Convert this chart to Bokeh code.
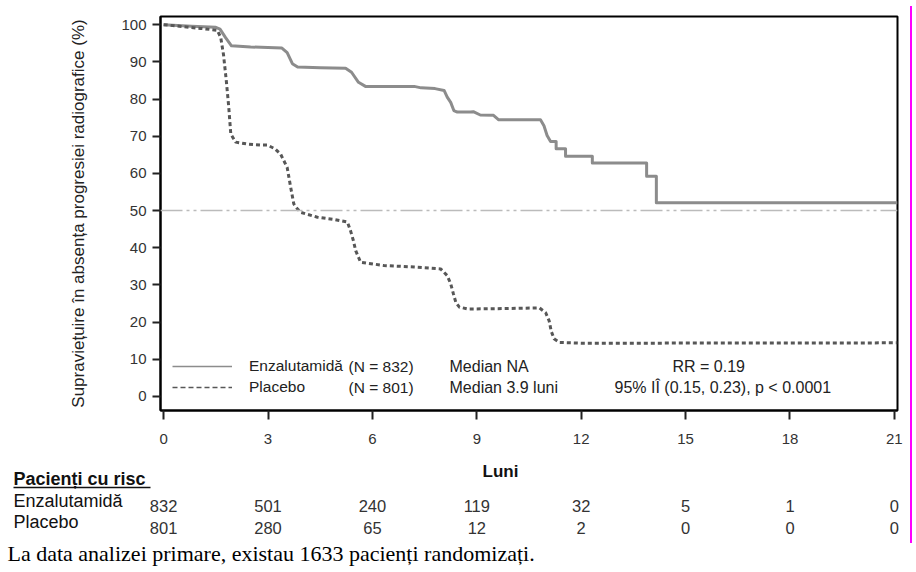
from bokeh.plotting import figure
from bokeh.layouts import column, row
from bokeh.models import Range1d, Span, Label, Legend, LegendItem, FixedTicker, Div
from bokeh.core.properties import value
from bokeh.embed import file_html
from bokeh.resources import INLINE

# ---------------- data ----------------
enza_t = [0, 0.8, 1.5, 1.62, 1.78, 1.95, 2.5, 3.4, 3.55, 3.7, 3.85, 4.5, 5.23, 5.4, 5.6, 5.8,
          7.2, 7.4, 7.8, 8.06, 8.15, 8.25, 8.34, 8.44, 8.82, 8.9, 9.1, 9.48, 9.63, 10.83,
          10.93, 11.02, 11.12, 11.28, 11.28, 11.55, 11.55, 12.32, 12.32, 13.88, 13.88,
          14.16, 14.16, 21.09]
enza_s = [100, 99.6, 99.3, 98.8, 96.5, 94.3, 94.0, 93.7, 92.5, 89.5, 88.6, 88.4, 88.3, 87.2, 84.5, 83.4,
          83.4, 83.0, 82.8, 82.3, 80.5, 79.1, 76.9, 76.5, 76.5, 76.6, 75.7, 75.6, 74.4, 74.4,
          72.8, 70.2, 68.6, 68.6, 66.6, 66.6, 64.6, 64.6, 62.8, 62.8, 59.2,
          59.2, 52.1, 52.1]

plac_t = [0, 1.06, 1.54, 1.64, 1.72, 1.8, 1.87, 1.93, 2.07, 2.4, 2.79, 2.98, 3.2, 3.36, 3.55, 3.65,
          3.74, 3.84, 3.94, 4.42, 4.9, 5.28, 5.37, 5.45, 5.52, 5.66, 6.33, 7.2, 7.96, 8.15, 8.25,
          8.33, 8.4, 8.5, 8.75, 9.6, 10.8, 10.98, 11.08, 11.14, 11.22, 11.38, 12.0, 21.09]
plac_s = [100, 99.0, 98.5, 96.6, 92.0, 85.0, 78.0, 70.6, 68.4, 67.9, 67.6, 67.6, 66.6, 65.2, 61.6, 56.3,
          51.8, 50.5, 49.5, 48.2, 47.6, 46.9, 44.6, 42.0, 39.2, 36.1, 35.2, 34.8, 34.3, 32.5, 30.3,
          27.5, 25.2, 24.0, 23.5, 23.6, 23.8, 22.5, 20.3, 17.5, 15.5, 14.5, 14.3, 14.4]

x_ticks = [0, 3, 6, 9, 12, 15, 18, 21]
y_ticks = [0, 10, 20, 30, 40, 50, 60, 70, 80, 90, 100]
median_ref = 50

risk_months = [0, 3, 6, 9, 12, 15, 18, 21]
risk_enza = [832, 501, 240, 119, 32, 5, 1, 0]
risk_plac = [801, 280, 65, 12, 2, 0, 0, 0]

n_enza, n_plac = 832, 801
median_enza = "NA"
median_plac = 3.9
hr, ci_lo, ci_hi = 0.19, 0.15, 0.23

arm_names = ["Enzalutamidă", "Placebo"]
y_title = "Supraviețuire în absența progresiei radiografice (%)"
x_title = "Luni"
risk_title = "Pacienți cu risc"
footer = "La data analizei primare, existau 1633 pacienți randomizați."

# ---------------- layout ----------------
W, H = 916, 572
TOP_H = 460            # height of the main chart block
RIGHT_W = 11           # thin strip at the right edge (page marker)
CW = W - RIGHT_W       # width of the chart column
FL, FR, FT, FB = 160, 897, 16, 410
X0, X1 = -0.09, 21.09
Y0, Y1 = -3.8, 102.2
SANS = "Liberation Sans"
SERIF = "Liberation Serif"


def dx(px):
    """canvas pixel column -> month, using the main chart's x mapping"""
    return X0 + (px - FL) / (FR - FL) * (X1 - X0)


def dy(py):
    return Y1 - (py - FT) / (FB - FT) * (Y1 - Y0)


# ---------------- main chart ----------------
p = figure(width=CW, height=TOP_H, x_range=Range1d(X0, X1), y_range=Range1d(Y0, Y1),
           output_backend="svg", toolbar_location=None, title=None,
           min_border_left=FL, min_border_right=CW - FR, min_border_top=FT,
           min_border_bottom=TOP_H - FB)
p.grid.visible = False
p.outline_line_color = "black"
p.outline_line_width = 2
p.outline_line_alpha = 1.0
p.background_fill_color = "white"
p.border_fill_color = "white"

for ax, ticks in ((p.xaxis, x_ticks), (p.yaxis, y_ticks)):
    ax.ticker = FixedTicker(ticks=ticks)
    ax.minor_tick_line_color = None
    ax.major_tick_in = 0
    ax.major_tick_line_width = 2
    ax.major_tick_line_color = "#222222"
    ax.axis_line_width = 2
    ax.axis_line_color = "black"
    ax.major_label_text_font = SANS
    ax.major_label_text_font_size = "15px"
    ax.major_label_text_color = "#333333"
p.xaxis.major_tick_out = 9
p.xaxis.major_label_standoff = 14
p.yaxis.major_tick_out = 8
p.yaxis.major_label_standoff = 6
p.yaxis.axis_label = y_title
p.yaxis.axis_label_text_font = SANS
p.yaxis.axis_label_text_font_size = "17px"
p.yaxis.axis_label_text_font_style = "normal"
p.yaxis.axis_label_text_color = "#222222"
p.yaxis.axis_label_standoff = 30

# median reference line
p.add_layout(Span(location=median_ref, dimension="width", line_color="#bbbbbb",
                  line_width=1.5, line_dash="22 4 3 4 3 4"))

# curves
p.line(enza_t, enza_s, line_color="#8c8c8c", line_width=3, line_join="round")
p.line(plac_t, plac_s, line_color="#575757", line_width=3, line_dash="4 3")

# legend (thin sample lines like the reference)
nan = float("nan")
r1 = p.line([nan], [nan], line_color="#8c8c8c", line_width=1.5)
r2 = p.line([nan], [nan], line_color="#575757", line_width=1.5, line_dash="5 3")
leg = Legend(items=[LegendItem(label=arm_names[0], renderers=[r1]),
                    LegendItem(label=arm_names[1], renderers=[r2])],
             location=(172 - FL, FB - 397), glyph_width=60, glyph_height=20,
             label_height=20, label_standoff=17, spacing=1, padding=0, margin=0,
             border_line_color=None, background_fill_alpha=0,
             label_text_font=SANS, label_text_font_size="15.5px",
             label_text_color="#222222")
p.add_layout(leg)


def lab(px, py, text, size="15px"):
    p.add_layout(Label(x=dx(px), y=dy(py), text=text, text_font=SANS, text_font_size=size,
                       text_align="left", text_baseline="middle", text_color="#222222"))


lab(348, 366, f"(N = {n_enza})", "15.5px")
lab(348, 387, f"(N = {n_plac})", "15.5px")
lab(449, 366, f"Median {median_enza}", "16px")
lab(449, 387, f"Median {median_plac} luni", "16px")
lab(672, 366, f"RR = {hr}", "16px")
lab(614, 387, f"95%  IÎ ({ci_lo}, {ci_hi}), p < 0.0001", "16px")

# ---------------- risk table + footer ----------------
q = figure(width=CW, height=H - TOP_H, x_range=Range1d(dx(0), dx(CW)), y_range=Range1d(H, TOP_H),
           output_backend="svg", toolbar_location=None, title=None, min_border=0,
           x_axis_type=None, y_axis_type=None)
q.grid.visible = False
q.outline_line_color = None
q.background_fill_color = "white"


def qtext(x, y, text, size, align="left", font=SANS, style="normal", color="#111111"):
    q.text(x=x, y=y, text=text, text_font=value(font), text_font_size=value(size),
           text_align=align, text_baseline="middle", text_font_style=style, text_color=color)


qtext([dx(500)], [471], [x_title], "17px", align="center", style="bold")
qtext([dx(13)], [478], [risk_title], "18px", style="bold")
q.segment(x0=[dx(13)], y0=[487], x1=[dx(150)], y1=[487], line_color="#111111", line_width=1.5)
qtext([dx(13)], [500], [arm_names[0]], "18px")
qtext([dx(13)], [521], [arm_names[1]], "18px")
qtext(risk_months, [505] * len(risk_months), [str(v) for v in risk_enza], "16.5px",
      align="center", color="#333333")
qtext(risk_months, [527] * len(risk_months), [str(v) for v in risk_plac], "16.5px",
      align="center", color="#333333")
qtext([dx(7)], [553], [footer], "22px", font=SERIF, color="#000000")

# ---------------- thin magenta page marker at the right edge ----------------
marker = Div(text='<div style="margin:6px 0 0 5px;width:2px;height:537px;background:#ff00ff"></div>',
             width=RIGHT_W, height=H, styles={"overflow": "hidden", "padding": "0", "margin": "0"})

# wrapping each figure in its own row keeps Bokeh from aligning their frames
layout = row(column(row(p, spacing=0), row(q, spacing=0), spacing=0), marker, spacing=0)
open("out.html", "w").write(file_html(layout, INLINE))
